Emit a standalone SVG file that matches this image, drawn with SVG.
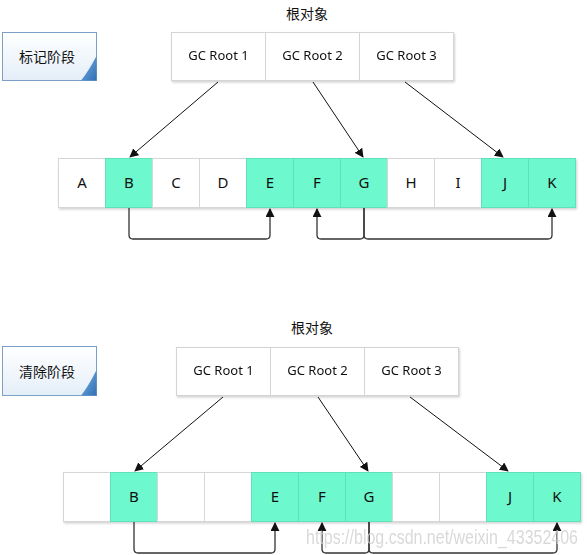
<svg xmlns="http://www.w3.org/2000/svg" width="587" height="555" viewBox="0 0 587 555">
<defs>
<linearGradient id="lbl" x1="0" y1="0" x2="0" y2="1">
<stop offset="0" stop-color="#ffffff"/>
<stop offset="1" stop-color="#e4eef8"/>
</linearGradient>
<linearGradient id="fold" x1="0" y1="0" x2="1" y2="1">
<stop offset="0" stop-color="#7db4e6"/>
<stop offset="1" stop-color="#2f6fb4"/>
</linearGradient>
<filter id="sh" x="-5%" y="-10%" width="110%" height="130%">
<feDropShadow dx="1" dy="1.5" stdDeviation="1" flood-color="#000" flood-opacity="0.18"/>
</filter>
<marker id="ah" viewBox="0 0 10 10" refX="9" refY="5" markerWidth="9" markerHeight="9" markerUnits="userSpaceOnUse" orient="auto">
<path d="M0,0 L10,5 L0,10 z" fill="#111"/>
</marker>
</defs>
<style>
.t{font-family:"Noto Sans","Open Sans","Noto Sans CJK SC",sans-serif;font-size:13px;fill:#111;text-anchor:middle}
.cn{font-family:"Noto Sans CJK SC",sans-serif;font-size:14px;fill:#111;text-anchor:middle}
.cl{font-family:"Noto Sans","Open Sans",sans-serif;font-size:15px;fill:#111;text-anchor:middle}
.w{fill:#ffffff;stroke:#d6d6d6;stroke-width:1}
.g{fill:#6ef8cd;stroke:#5fe2bb;stroke-width:1}
.root{fill:#ffffff;stroke:#d4d4d4;stroke-width:1}
.lb{fill:url(#lbl);stroke:#7b9fc6;stroke-width:1}
.ln{stroke:#111;stroke-width:1;fill:none}
.cn2{stroke:#333;stroke-width:1.3;fill:none}
.wm{font-family:"Liberation Sans",Arial,sans-serif;font-size:20px;fill:#d0d0d0;opacity:0.8}
</style>

<!-- ===== Top: mark phase ===== -->
<g id="label-mark">
<rect class="lb" x="2.5" y="32.5" width="94" height="48"/>
<path d="M96.5,56 L96.5,80.5 L81,80.5 Q88,72 96.5,56 z" fill="url(#fold)"/>
<text class="cn" x="47" y="62">标记阶段</text>
</g>
<g id="roots-title-top"><text class="cn" x="307" y="19">根对象</text></g>
<g id="roots-top" filter="url(#sh)">
<rect class="root" x="171.5" y="32.5" width="94" height="48"/>
<rect class="root" x="265.5" y="32.5" width="94" height="48"/>
<rect class="root" x="359.5" y="32.5" width="94" height="48"/>
<text class="t" x="218.5" y="60">GC Root 1</text>
<text class="t" x="312.5" y="60">GC Root 2</text>
<text class="t" x="406.5" y="60">GC Root 3</text>
</g>
<g id="cells-top" filter="url(#sh)">
<rect class="w" x="58.5" y="158.5" width="47" height="49"/>
<rect class="g" x="105.5" y="158.5" width="47" height="49"/>
<rect class="w" x="152.5" y="158.5" width="47" height="49"/>
<rect class="w" x="199.5" y="158.5" width="47" height="49"/>
<rect class="g" x="246.5" y="158.5" width="47" height="49"/>
<rect class="g" x="293.5" y="158.5" width="47" height="49"/>
<rect class="g" x="340.5" y="158.5" width="47" height="49"/>
<rect class="w" x="387.5" y="158.5" width="47" height="49"/>
<rect class="w" x="434.5" y="158.5" width="47" height="49"/>
<rect class="g" x="481.5" y="158.5" width="47" height="49"/>
<rect class="g" x="528.5" y="158.5" width="47" height="49"/>
</g>
<g id="cell-labels-top">
<text class="cl" x="82" y="188">A</text>
<text class="cl" x="129" y="188">B</text>
<text class="cl" x="176" y="188">C</text>
<text class="cl" x="223" y="188">D</text>
<text class="cl" x="270" y="188">E</text>
<text class="cl" x="317" y="188">F</text>
<text class="cl" x="364" y="188">G</text>
<text class="cl" x="411" y="188">H</text>
<text class="cl" x="458" y="188">I</text>
<text class="cl" x="505" y="188">J</text>
<text class="cl" x="552" y="188">K</text>
</g>
<g id="connectors-top">
<line class="ln" x1="218" y1="82" x2="130" y2="157" marker-end="url(#ah)"/>
<line class="ln" x1="313" y1="82" x2="363" y2="157" marker-end="url(#ah)"/>
<line class="ln" x1="405" y1="82" x2="503" y2="157" marker-end="url(#ah)"/>
<path class="cn2" d="M129,208 V235 Q129,239 133,239 H266 Q270,239 270,235 V209" marker-end="url(#ah)"/>
<path class="cn2" d="M364,208 V235 Q364,239 360,239 H321 Q317,239 317,235 V209" marker-end="url(#ah)"/>
<path class="cn2" d="M364,208 V235 Q364,239 368,239 H548 Q552,239 552,235 V209" marker-end="url(#ah)"/>
</g>

<!-- ===== Bottom: sweep phase ===== -->
<g id="label-sweep">
<rect class="lb" x="2.5" y="346.5" width="94" height="49"/>
<path d="M96.5,370 L96.5,395.5 L81,395.5 Q88,387 96.5,370 z" fill="url(#fold)"/>
<text class="cn" x="47" y="377">清除阶段</text>
</g>
<g id="roots-title-bottom"><text class="cn" x="312" y="333">根对象</text></g>
<g id="roots-bottom" filter="url(#sh)">
<rect class="root" x="176.5" y="347.5" width="94" height="48"/>
<rect class="root" x="270.5" y="347.5" width="94" height="48"/>
<rect class="root" x="364.5" y="347.5" width="94" height="48"/>
<text class="t" x="223.5" y="375">GC Root 1</text>
<text class="t" x="317.5" y="375">GC Root 2</text>
<text class="t" x="411.5" y="375">GC Root 3</text>
</g>
<g id="cells-bottom" filter="url(#sh)">
<rect class="w" x="63.5" y="472.5" width="47" height="49"/>
<rect class="g" x="110.5" y="472.5" width="47" height="49"/>
<rect class="w" x="157.5" y="472.5" width="47" height="49"/>
<rect class="w" x="204.5" y="472.5" width="47" height="49"/>
<rect class="g" x="251.5" y="472.5" width="47" height="49"/>
<rect class="g" x="298.5" y="472.5" width="47" height="49"/>
<rect class="g" x="345.5" y="472.5" width="47" height="49"/>
<rect class="w" x="392.5" y="472.5" width="47" height="49"/>
<rect class="w" x="439.5" y="472.5" width="47" height="49"/>
<rect class="g" x="486.5" y="472.5" width="47" height="49"/>
<rect class="g" x="533.5" y="472.5" width="47" height="49"/>
</g>
<g id="cell-labels-bottom">
<text class="cl" x="134" y="502">B</text>
<text class="cl" x="275" y="502">E</text>
<text class="cl" x="322" y="502">F</text>
<text class="cl" x="369" y="502">G</text>
<text class="cl" x="510" y="502">J</text>
<text class="cl" x="557" y="502">K</text>
</g>
<g id="connectors-bottom">
<line class="ln" x1="223" y1="397" x2="135" y2="471" marker-end="url(#ah)"/>
<line class="ln" x1="318" y1="397" x2="368" y2="471" marker-end="url(#ah)"/>
<line class="ln" x1="410" y1="397" x2="508" y2="471" marker-end="url(#ah)"/>
<path class="cn2" d="M134,522 V549 Q134,553 138,553 H271 Q275,553 275,549 V523" marker-end="url(#ah)"/>
<path class="cn2" d="M369,522 V549 Q369,553 365,553 H326 Q322,553 322,549 V523" marker-end="url(#ah)"/>
<path class="cn2" d="M369,522 V549 Q369,553 373,553 H553 Q557,553 557,549 V523" marker-end="url(#ah)"/>
</g>
<text class="wm" x="306" y="544" textLength="272" lengthAdjust="spacingAndGlyphs">https://blog.csdn.net/weixin_43352406</text>
</svg>
